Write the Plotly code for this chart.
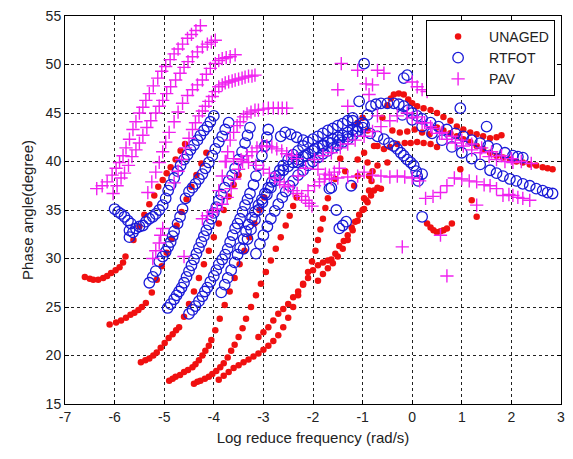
import plotly.graph_objects as go

# ---------------- UNAGED (red dots) ----------------
U1 = [(-6.6,28.1),(-6.5,27.9),(-6.43,27.8),(-6.33,27.8),(-6.23,28.0),(-6.15,28.2),(-6.07,28.5),(-5.98,28.8),(-5.9,29.1),(-5.83,29.6),(-5.78,30.2)]
U2 = [(-5.62,31.9),(-5.5,33.3),(-5.4,34.5),(-5.3,35.6),(-5.2,36.5),(-5.12,37.4),(-5.03,38.1),(-4.95,38.8),(-4.87,39.4),(-4.77,40.2),(-4.67,41.1),(-4.58,41.8)]
U3 = [(-6.1,23.2),(-5.97,23.4),(-5.87,23.6),(-5.77,23.9),(-5.68,24.2),(-5.6,24.4),(-5.52,24.7),(-5.45,25.0),(-5.37,25.4),(-5.25,26.5),(-5.15,27.8),(-5.05,29.2),(-4.95,30.6),(-4.85,32.0),(-4.75,33.4),(-4.65,34.8),(-4.55,36.1),(-4.45,37.4),(-4.35,38.6),(-4.25,39.8),(-4.15,40.9)]
U4 = [(-5.47,19.3),(-5.38,19.5),(-5.3,19.7),(-5.22,20.0),(-5.15,20.3),(-5.07,20.8),(-4.99,21.3),(-4.91,21.8),(-4.83,22.2),(-4.76,22.6),(-4.7,22.9),(-4.6,24.0),(-4.5,25.3),(-4.4,26.6),(-4.3,28.0),(-4.2,29.4),(-4.1,30.8),(-4.0,32.2),(-3.9,33.6),(-3.8,35.0),(-3.7,36.4),(-3.6,37.6),(-3.5,38.6)]
U5 = [(-4.9,17.4),(-4.83,17.6),(-4.77,17.8),(-4.68,18.0),(-4.6,18.3),(-4.52,18.5),(-4.43,18.8),(-4.37,19.1),(-4.3,19.5),(-4.23,20.0),(-4.17,20.5),(-4.1,21.0),(-4.05,21.6),(-3.97,22.6),(-3.88,23.8),(-3.78,25.2),(-3.68,26.6),(-3.58,28.0),(-3.48,29.4),(-3.38,30.8),(-3.28,32.2),(-3.18,33.6),(-3.08,35.0),(-2.98,36.3)]
U6 = [(-4.4,17.1),(-4.33,17.3),(-4.27,17.4),(-4.18,17.6),(-4.1,17.8),(-4.03,18.1),(-3.95,18.4),(-3.87,18.8),(-3.8,19.2),(-3.72,19.8),(-3.65,20.5),(-3.58,21.1),(-3.5,21.9),(-3.42,22.8),(-3.35,23.8),(-3.25,25.0),(-3.15,26.2),(-3.05,27.4),(-2.95,28.6),(-2.85,29.8),(-2.75,31.0),(-2.65,32.2),(-2.55,33.4),(-2.47,34.4),(-2.4,35.4),(-2.33,36.3)]
U7 = [(-3.9,17.5),(-3.8,17.9),(-3.7,18.3),(-3.6,18.7),(-3.5,19.0),(-3.4,19.3),(-3.3,19.6),(-3.2,19.9),(-3.1,20.2),(-3.0,20.6),(-2.9,21.0),(-2.8,21.5),(-2.7,22.1),(-2.6,22.9),(-2.5,23.9),(-2.4,25.0),(-2.3,26.2),(-2.2,27.4),(-2.1,28.6),(-2.02,29.7),(-1.95,30.8),(-1.9,31.9),(-1.85,33.0),(-1.8,34.1),(-1.75,35.2),(-1.7,36.2)]
U8 = [(-3.1,21.9),(-3.0,22.4),(-2.9,22.9),(-2.8,23.6),(-2.7,24.3),(-2.6,24.8),(-2.5,25.3),(-2.4,26.0),(-2.3,26.6),(-2.2,27.3),(-2.1,28.0),(-2.0,28.8),(-1.9,29.3),(-1.8,29.6),(-1.7,29.8),(-1.63,29.9),(-1.55,30.5),(-1.47,31.3),(-1.38,31.8),(-1.3,32.4),(-1.22,33.2),(-1.15,33.8),(-1.07,34.5),(-0.97,35.1),(-0.9,35.8),(-0.83,36.5),(-0.77,37.0),(-0.7,37.3)]
U9 = [(-1.9,27.7),(-1.8,28.4),(-1.7,29.0),(-1.6,29.5),(-1.5,30.2),(-1.4,31.0),(-1.3,31.9),(-1.2,32.9),(-1.1,33.9),(-1.0,35.0),(-0.93,36.0),(-0.87,37.0),(-0.82,38.0),(-0.8,39.0)]
U10 = [(-1.17,37.5),(-1.1,38.5),(-1.1,40.2),(-0.97,40.9),(-0.9,39.9),(-0.87,38.5),(-0.97,36.2),(-0.7,39.6),(-0.5,39.9),(-0.63,37.2),(-0.77,41.6),(-1.1,44.0),(-1.0,44.5),(-0.9,43.2),(-1.45,40.3),(-1.35,39.0),(-1.55,38.2)]
U11 = [(-0.6,44.5),(-0.5,45.8),(-0.43,46.5),(-0.37,46.9),(-0.27,47.0),(-0.17,46.9),(-0.08,46.4),(0.0,46.0),(0.1,45.7),(0.23,45.5),(0.37,45.3),(0.5,45.0),(0.63,44.6),(0.77,44.2)]
U12 = [(0.5,43.5),(0.63,43.2),(0.77,42.9),(0.9,42.6),(1.03,42.3),(1.17,42.0),(1.3,41.6),(1.43,41.3),(1.57,40.9),(1.7,40.6),(1.83,40.4),(1.97,40.2),(2.1,40.0),(2.23,39.9),(2.37,39.7),(2.5,39.6),(2.63,39.4),(2.73,39.3),(2.83,39.2)]
U13 = [(0.9,43.6),(1.03,43.3),(1.17,43.0),(1.3,42.8),(1.43,42.6),(1.57,42.4),(1.7,42.5),(1.8,42.7)]
U14 = [(-0.7,41.6),(-0.57,41.3),(-0.45,41.5),(-0.3,41.8),(-0.15,41.9),(-0.03,41.9),(0.1,42.0),(0.23,41.9),(0.37,41.8),(0.5,41.5)]
U15 = [(0.3,33.6),(0.37,33.2),(0.43,32.9),(0.5,32.7),(0.57,32.8),(0.63,32.9),(0.7,33.1),(0.8,33.6)]
U16 = [(1.2,36.0),(1.3,34.3),(0.97,39.2),(-0.4,43.2),(-0.25,43.0),(-0.1,43.1),(0.05,43.3),(0.2,43.0),(0.35,42.8)]

# ---------------- RTFOT (blue circles) ----------------
R1 = [(-6.0,35.1),(-5.93,34.8),(-5.87,34.6),(-5.8,34.3),(-5.73,33.9),(-5.67,33.6),(-5.7,32.9),(-5.7,32.2),(-5.63,32.7),(-5.57,33.1),(-5.5,33.3),(-5.43,33.4),(-5.37,33.8),(-5.3,34.1),(-5.23,34.3),(-5.17,34.6),(-5.1,35.0),(-5.03,35.5),(-4.97,36.2),(-4.92,37.0),(-4.87,37.6),(-4.8,38.3),(-4.73,39.0),(-4.67,39.6),(-4.6,40.2),(-4.53,40.7),(-4.47,41.2),(-4.4,41.7),(-4.33,42.2),(-4.27,42.7),(-4.2,43.2),(-4.13,43.6),(-4.07,44.1),(-4.0,44.7)]
R2 = [(-5.3,27.5),(-5.23,28.1),(-5.17,28.7),(-5.1,29.7),(-5.03,30.2),(-4.97,30.7),(-4.92,31.2),(-4.87,31.7),(-4.83,32.3),(-4.8,32.8),(-4.73,33.6),(-4.68,34.3),(-4.63,35.1),(-4.57,36.2),(-4.5,36.9),(-4.43,37.3),(-4.37,37.7),(-4.3,38.2),(-4.23,38.7),(-4.17,39.3),(-4.1,39.9),(-4.03,40.6),(-3.97,41.3),(-3.9,42.0),(-3.83,42.6),(-3.77,43.3),(-3.7,44.0)]
R3 = [(-4.93,24.9),(-4.87,25.3),(-4.8,25.8),(-4.75,26.2),(-4.7,26.6),(-4.65,27.0),(-4.6,27.5),(-4.55,28.1),(-4.5,28.7),(-4.45,29.3),(-4.4,29.9),(-4.35,30.5),(-4.3,31.1),(-4.25,31.7),(-4.2,32.3),(-4.15,32.9),(-4.1,33.5),(-4.05,34.1),(-4.0,34.7),(-3.95,35.3),(-3.9,36.0),(-3.85,36.6),(-3.78,37.3),(-3.7,38.0),(-3.63,38.6),(-3.57,39.3),(-3.5,40.2),(-3.43,41.0),(-3.37,41.9),(-3.32,42.7),(-3.27,43.5)]
R4 = [(-4.5,24.3),(-4.43,24.7),(-4.37,25.1),(-4.3,25.6),(-4.23,26.1),(-4.18,26.6),(-4.13,27.0),(-4.07,27.6),(-4.0,28.2),(-3.95,28.8),(-3.9,29.4),(-3.83,29.9),(-3.77,30.4),(-3.72,31.0),(-3.67,31.7),(-3.62,32.4),(-3.57,33.1),(-3.52,33.6),(-3.47,34.1),(-3.42,34.8),(-3.37,35.5),(-3.32,36.1),(-3.27,36.7),(-3.2,37.6),(-3.15,38.5),(-3.1,39.6),(-3.03,40.6),(-2.97,41.6),(-2.93,42.5),(-2.9,43.3)]
R5 = [(-3.85,26.5),(-3.78,27.3),(-3.72,28.0),(-3.65,28.8),(-3.58,29.6),(-3.52,30.4),(-3.47,31.1),(-3.4,32.0),(-3.35,32.8),(-3.3,33.5),(-3.23,34.2),(-3.17,34.8),(-3.1,35.5),(-3.03,36.1),(-2.97,36.7),(-2.9,37.3),(-2.83,37.9),(-2.75,38.5),(-2.67,39.1),(-2.6,39.6),(-2.5,40.2),(-2.4,40.7),(-2.3,41.1),(-2.2,41.6),(-2.1,42.0),(-2.0,42.3),(-1.9,42.6),(-1.8,42.9),(-1.7,43.2),(-1.6,43.4),(-1.5,43.7),(-1.4,43.9),(-1.3,44.2),(-1.2,44.5)]
R6 = [(-3.4,31.0),(-3.32,32.0),(-3.25,33.0),(-3.17,34.0),(-3.1,35.0),(-3.02,35.8),(-2.93,36.6),(-2.85,37.3),(-2.77,38.0),(-2.68,38.6),(-2.6,39.1),(-2.5,39.5),(-2.4,39.9),(-2.3,40.2),(-2.2,40.5),(-2.1,40.8),(-2.0,41.1),(-1.9,41.4),(-1.8,41.7),(-1.7,42.0),(-1.6,42.3),(-1.5,42.5),(-1.4,42.7),(-1.3,43.0),(-1.2,43.3),(-1.1,43.6),(-1.0,44.0)]
R7 = [(-3.15,30.5),(-3.07,31.5),(-3.0,32.4),(-2.92,33.3),(-2.85,34.1),(-2.77,34.9),(-2.7,35.6),(-2.62,36.3),(-2.55,36.9),(-2.47,37.5),(-2.4,38.0),(-2.3,38.6),(-2.2,39.1),(-2.1,39.6),(-2.0,40.0),(-1.9,40.4),(-1.8,40.8),(-1.7,41.1),(-1.6,41.4),(-1.5,41.7),(-1.4,42.0),(-1.3,42.3),(-1.2,42.7),(-1.1,43.1)]
R8 = [(-2.3,39.9),(-2.15,40.6),(-1.97,41.3),(-1.8,41.6),(-1.63,41.9),(-1.47,42.2),(-1.3,42.6),(-1.13,43.1),(-0.97,43.8),(-0.9,44.8),(-0.83,45.7),(-0.73,45.9),(-0.63,46.0),(-0.5,46.0),(-0.37,46.0),(-0.27,45.9),(-0.17,45.7),(-0.08,45.3),(0.0,45.0),(0.1,44.7),(0.2,44.4),(0.37,44.0),(0.53,43.6),(0.7,43.3),(0.87,42.9),(1.03,42.6),(1.2,42.2),(1.37,41.9),(1.53,41.6),(1.7,41.3),(1.87,40.9),(2.03,40.6),(2.13,40.5),(2.23,40.4)]
R9 = [(-0.2,44.8),(0.0,44.3),(0.2,43.6),(0.4,42.9),(0.6,42.2),(0.8,41.5),(1.0,40.9),(1.2,40.3),(1.37,39.7),(1.57,39.1),(1.7,38.8),(1.83,38.5),(1.97,38.2),(2.1,38.0),(2.23,37.7),(2.37,37.5),(2.5,37.2),(2.63,37.0),(2.73,36.8),(2.83,36.7)]
R10 = [(-1.2,44.2),(-1.0,43.5),(-0.85,42.9),(-0.7,42.6),(-0.57,42.3),(-0.47,41.9),(-0.37,41.6),(-0.3,41.3),(-0.23,40.9),(-0.17,40.6),(-0.1,40.2),(-0.03,39.9),(0.03,39.6),(0.08,39.0),(0.1,38.5),(0.12,38.0)]
R11 = [(-2.65,42.6),(-2.56,43.0),(-2.45,42.8),(-2.33,42.5),(-2.2,42.2)]
R12 = [(-0.97,50.1),(-0.17,48.6),(-0.1,48.9),(-1.07,46.2),(-1.67,37.2),(-1.53,35.0),(-1.47,33.1),(-1.33,33.8),(-1.23,37.5),(0.2,34.3),(1.5,43.6),(0.97,45.5),(0.2,38.7),(-1.63,37.3),(-1.4,33.4)]

# ---------------- PAV (magenta plus) ----------------
P1 = [(-6.36,37.2),(-6.25,37.5),(-6.15,37.9),(-6.05,38.6),(-5.97,39.3),(-5.9,39.9),(-5.83,40.6),(-5.77,41.4),(-5.7,42.3),(-5.63,43.3),(-5.57,44.1),(-5.5,45.0),(-5.43,45.6),(-5.37,46.3),(-5.3,47.0),(-5.22,47.8),(-5.13,48.6),(-5.05,49.3),(-4.97,49.8),(-4.88,50.5),(-4.8,51.1),(-4.72,51.6),(-4.63,52.1),(-4.53,52.7),(-4.45,53.1),(-4.36,53.5),(-4.27,54.0)]
P2 = [(-6.03,36.7),(-5.95,37.5),(-5.87,38.3),(-5.8,38.8),(-5.72,39.6),(-5.65,40.5),(-5.57,41.2),(-5.5,41.9),(-5.43,42.7),(-5.35,43.5),(-5.27,44.2),(-5.17,45.0),(-5.1,45.7),(-5.03,46.3),(-4.95,47.0),(-4.87,47.7),(-4.77,48.4),(-4.68,49.1),(-4.6,49.7),(-4.52,50.3),(-4.43,50.8),(-4.33,51.3),(-4.23,51.8),(-4.13,52.1),(-4.05,52.3),(-3.97,52.5)]
P3 = [(-5.33,36.8),(-5.25,37.9),(-5.17,38.9),(-5.1,39.9),(-5.03,41.0),(-4.97,42.0),(-4.9,43.0),(-4.8,44.1),(-4.72,45.1),(-4.63,46.0),(-4.53,46.8),(-4.43,47.4),(-4.33,47.9),(-4.23,48.4),(-4.15,49.0),(-4.07,49.6),(-3.97,50.1),(-3.9,50.4),(-3.83,50.6),(-3.75,50.7),(-3.67,50.8),(-3.57,51.0)]
P4 = [(-4.8,37.8),(-4.72,39.0),(-4.65,40.2),(-4.57,41.4),(-4.5,42.4),(-4.43,43.3),(-4.37,44.0),(-4.3,44.7),(-4.23,45.2),(-4.17,45.7),(-4.1,46.2),(-4.03,46.7),(-3.97,47.2),(-3.9,47.7),(-3.83,47.9),(-3.77,48.1),(-3.7,48.2),(-3.63,48.3),(-3.57,48.4),(-3.5,48.5),(-3.43,48.6),(-3.37,48.7),(-3.3,48.8),(-3.23,48.8),(-3.17,48.9)]
P5 = [(-3.9,37.0),(-3.83,38.5),(-3.77,40.0),(-3.72,41.0),(-3.67,42.2),(-3.6,43.0),(-3.53,43.7),(-3.47,44.1),(-3.4,44.6),(-3.33,44.9),(-3.25,45.1),(-3.17,45.3),(-3.1,45.3),(-3.0,45.4),(-2.9,45.5),(-2.8,45.5),(-2.7,45.5),(-2.62,45.5),(-2.53,45.5)]
P6 = [(-4.23,34.1),(-4.13,34.4),(-4.03,34.8),(-3.93,35.1),(-3.83,35.6),(-3.73,36.3),(-3.65,37.2),(-3.58,38.2),(-3.5,39.2),(-3.42,40.0),(-3.33,40.6),(-3.23,41.0),(-3.13,41.4),(-3.03,41.6),(-2.93,41.6),(-2.83,41.5),(-2.73,41.3),(-2.63,41.1),(-2.53,40.8),(-2.43,40.6),(-2.33,40.3)]
P7 = [(-3.75,40.0),(-3.6,40.3),(-3.45,40.2),(-3.3,39.9),(-3.15,39.6),(-3.0,39.2),(-2.88,38.8),(-2.77,38.3),(-2.67,37.9),(-2.58,37.6),(-2.5,37.4),(-2.4,37.0),(-2.32,36.7),(-2.23,36.4),(-2.15,36.0),(-2.08,35.7),(-2.02,35.4)]
P8 = [(-2.3,38.5),(-2.15,39.3),(-1.97,40.2),(-1.8,40.6),(-1.63,40.9),(-1.45,41.4),(-1.3,41.8),(-1.15,42.2),(-0.97,42.6),(-0.8,43.1),(-0.63,43.6),(-0.45,44.2),(-0.3,44.7),(-0.1,45.0),(0.1,44.6),(0.25,44.0),(0.37,43.6),(0.55,42.9),(0.7,42.3),(0.87,41.9),(1.03,41.6),(1.2,41.2),(1.37,40.9),(1.55,40.5),(1.7,40.2),(1.87,40.0),(2.03,39.9)]
P9 = [(-1.9,39.2),(-1.75,38.7),(-1.63,38.2),(-1.5,38.3),(-1.3,38.4),(-1.1,38.5),(-0.97,38.9),(-0.8,38.6),(-0.63,38.5),(-0.45,38.4),(-0.3,38.5),(-0.15,38.4),(0.0,38.3)]
P10 = [(0.15,38.0),(0.27,36.2),(0.42,36.4),(0.57,36.8),(0.7,37.5),(0.85,38.3),(1.0,38.2),(1.15,38.0),(1.3,37.9),(1.45,37.6),(1.57,37.5),(1.7,37.2),(1.83,36.5),(1.95,36.6),(2.03,36.5),(2.13,36.3),(2.23,36.2),(2.37,36.0)]
P11 = [(0.0,44.5),(0.2,44.0),(0.4,43.4),(0.6,43.0),(0.8,42.6),(1.0,42.2),(1.2,41.8),(1.4,41.4),(1.6,41.0),(1.8,40.6),(2.0,40.3),(2.2,40.0),(2.4,39.8)]
P12 = [(-2.1,37.0),(-1.97,37.5),(-1.87,37.9),(-1.77,38.2),(-1.67,38.6),(-1.57,38.9),(-1.47,39.3)]
P13 = [(-5.23,30.0),(-5.17,30.8),(-5.1,31.6),(-5.07,32.4),(-5.03,33.1),(-4.6,30.2)]
P14 = [(-1.43,50.1),(-1.1,49.4),(-1.5,47.4),(-1.3,45.7),(-0.93,48.0),(-0.87,46.9),(-0.7,49.4),(-0.57,49.1),(-0.8,47.9),(0.0,48.2),(0.1,47.7),(0.2,47.4),(0.3,47.2),(-0.2,31.2),(0.7,28.2),(0.57,32.4),(-0.7,44.7),(1.3,35.5)]

UNAGED = [U1, U2, U3, U4, U5, U6, U7, U8, U9, U10, U11, U12, U13, U14, U15, U16]
RTFOT = [R1, R2, R3, R4, R5, R6, R7, R8, R9, R10, R11, R12]
PAV = [P1, P2, P3, P4, P5, P6, P7, P8, P9, P10, P11, P12, P13, P14]

X_TICKS = [-7, -6, -5, -4, -3, -2, -1, 0, 1, 2, 3]
Y_TICKS = [15, 20, 25, 30, 35, 40, 45, 50, 55]


def flatten(curves):
    xs, ys = [], []
    for c in curves:
        for x, y in c:
            xs.append(x)
            ys.append(y)
    return xs, ys


FONT = "Arial, 'Liberation Sans', Helvetica, sans-serif"

fig = go.Figure()
ux, uy = flatten(UNAGED)
fig.add_trace(go.Scatter(x=ux, y=uy, mode="markers", name="UNAGED", legendgroup="u",
                         marker=dict(symbol="circle", size=6.5, color="#f01010", line=dict(width=0))))
rx, ry = flatten(RTFOT)
fig.add_trace(go.Scatter(x=rx, y=ry, mode="markers", name="RTFOT", legendgroup="r",
                         marker=dict(symbol="circle-open", size=10.5, color="#1a1ad8", line=dict(width=1.3, color="#1a1ad8"))))
px_, py_ = flatten(PAV)
fig.add_trace(go.Scatter(x=px_, y=py_, mode="markers", name="PAV", legendgroup="p",
                         marker=dict(symbol="cross-thin", size=9.5, color="#f020f0", line=dict(width=1.4, color="#f020f0"))))

axis_common = dict(showgrid=True, gridcolor="#222222", griddash="dot", gridwidth=1,
                   showline=True, linecolor="black", linewidth=1, mirror="ticks",
                   ticks="inside", ticklen=4, tickcolor="black", zeroline=False,
                   tickfont=dict(family=FONT, size=14, color="#222"))

fig.update_layout(
    width=573, height=459,
    margin=dict(l=65, r=8, t=12, b=55),
    paper_bgcolor="white", plot_bgcolor="white",
    font=dict(family=FONT, color="#222"),
    xaxis=dict(range=[-7, 3], tickvals=X_TICKS, ticktext=[str(v) for v in X_TICKS],
               title=dict(text="Log reduce frequency (rad/s)", font=dict(family=FONT, size=15), standoff=8),
               **axis_common),
    yaxis=dict(range=[15, 55], tickvals=Y_TICKS, ticktext=[str(v) for v in Y_TICKS],
               title=dict(text="Phase angle(degree)", font=dict(family=FONT, size=15), standoff=8),
               **axis_common),
    legend=dict(x=0.728, y=0.99, xanchor="left", yanchor="top", bgcolor="white",
                bordercolor="black", borderwidth=1, font=dict(family=FONT, size=14, color="#222"),
                tracegroupgap=0, itemwidth=52),
    showlegend=True,
)

fig.write_html("out.html")
